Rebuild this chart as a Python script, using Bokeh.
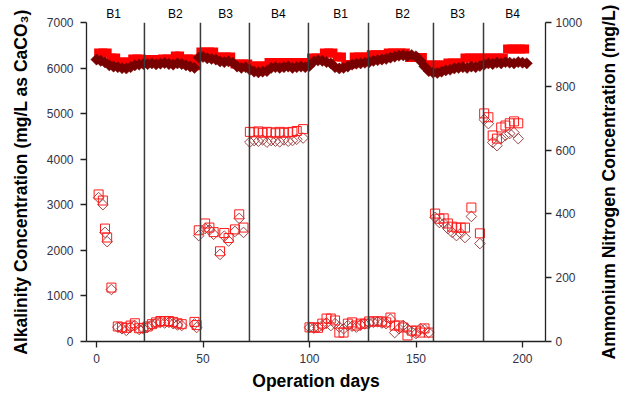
import numpy as np
from bokeh.plotting import figure
from bokeh.layouts import row
from bokeh.models import Range1d, LinearAxis, FixedTicker, Span
from bokeh.embed import file_html
from bokeh.resources import INLINE

# ---------------- data ----------------
# Influent alkalinity (mg/L as CaCO3), filled red squares, every 2 days from day 1
alk_in_days = list(range(1, 203, 2))
alk_in = [6330, 6330, 6330, 6220, 6220, 6135, 6135, 6135, 6200, 6200,
          6200, 6190, 6190, 6190, 6190, 6200, 6200, 6200, 6265, 6265,
          6200, 6200, 6200, 6050, 6350, 6350, 6350, 6350, 6245, 6245,
          6245, 6245, 6090, 6090, 6090, 6090, 6045, 6045, 6045, 6045,
          6120, 6120, 6120, 6120, 6120, 6120, 6120, 6120, 6120, 6120,
          6220, 6220, 6220, 6330, 6330, 6330, 6245, 6245, 6080, 6080,
          6245, 6245, 6245, 6245, 6290, 6290, 6290, 6290, 6330, 6330,
          6330, 6330, 6330, 6230, 6230, 6230, 6230, 6068, 6068, 6068,
          6068, 6068, 6111, 6111, 6111, 6111, 6221, 6221, 6221, 6221,
          6221, 6221, 6221, 6221, 6221, 6221, 6419, 6419, 6419, 6419,
          6419]

# Influent ammonium nitrogen (mg/L), filled dark-red diamonds, every 2 days from day 0
nh4_in_days = list(range(0, 204, 2))
nh4_in = [884, 880, 875, 866, 862, 860, 857, 856, 860, 866,
          868, 870, 870, 872, 869, 871, 873, 870, 868, 872,
          870, 866, 862, 858, 890, 892, 888, 886, 884, 878,
          876, 878, 874, 862, 858, 860, 852, 846, 844, 846,
          848, 858, 860, 858, 860, 862, 858, 860, 862, 860,
          864, 878, 881, 880, 876, 872, 860, 856, 858, 862,
          868, 871, 872, 874, 876, 880, 882, 884, 886, 890,
          893, 896, 897, 895, 898, 894, 880, 862, 848, 843,
          842, 846, 850, 852, 856, 858, 860, 858, 862, 860,
          864, 868, 872, 870, 874, 872, 876, 874, 872, 876,
          874, 872]

# Effluent samples
eff_days = [1, 3, 4, 5, 7,
            10, 12, 14, 16, 18, 20, 22,
            24, 26, 28, 30, 32, 34, 36, 38, 40,
            46, 47,
            48, 51, 53, 55, 58, 60, 62, 65, 67, 69,
            72, 74, 76, 78, 80, 82, 84, 86, 88, 90, 92, 94, 97,
            100, 102, 104, 106, 108, 110, 112, 114, 116, 118, 120, 122, 124, 126,
            128, 130, 132, 134, 136, 138, 140, 142, 144, 146, 148, 150, 152, 154, 156,
            159, 161, 163, 165, 167, 169, 171, 173, 176, 180,
            182, 184, 186, 188, 190, 192, 194, 196, 198]

# Effluent alkalinity (mg/L as CaCO3), open red squares
alk_eff = [3227, 3094, 2478, 2282, 1183,
           330, 310, 300, 350, 400, 290, 300,
           330, 380, 420, 450, 440, 450, 430, 400, 380,
           430, 360,
           2440, 2590, 2500, 2400, 1980, 2380, 2270, 2460, 2790, 2500,
           4600, 4590, 4610, 4580, 4600, 4590, 4570, 4600, 4580, 4590, 4600, 4620, 4660,
           310, 310, 300, 392, 504, 504, 462, 196, 196, 392, 420, 350, 392, 392,
           440, 441, 441, 441, 420, 525, 350, 350, 308, 133, 238, 238, 196, 287, 196,
           2807, 2695, 2702, 2590, 2520, 2499, 2499, 2499, 2940, 2373,
           5005, 4921, 4522, 4452, 4697, 4739, 4788, 4830, 4788]

# Effluent ammonium nitrogen (mg/L), open dark-red diamonds
nh4_eff = [451, 429, 342, 313, 163,
           45, 40, 35, 45, 50, 38, 40,
           45, 52, 58, 60, 58, 60, 56, 52, 50,
           55, 44,
           332, 354, 350, 336, 273, 330, 315, 345, 386, 342,
           625, 630, 628, 632, 625, 630, 628, 626, 632, 628, 630, 634, 638,
           44, 42, 44, 50, 58, 50, 56, 45, 40, 50, 48, 45, 52, 55,
           58, 60, 62, 58, 56, 70, 28, 40, 50, 40, 30, 25, 40, 38, 28,
           389, 373, 370, 354, 342, 332, 339, 326, 392, 307,
           696, 683, 624, 614, 636, 646, 652, 655, 636]

# Phase separators and labels
phase_bounds = [22.5, 48.8, 71.8, 99.5, 127.7, 158.2, 181.7]
phase_label_pos = [8, 37, 60.6, 85.4, 114.6, 143.7, 169.5, 195.3]
phase_labels = ["B1", "B2", "B3", "B4", "B1", "B2", "B3", "B4"]

x_ticks = [0, 50, 100, 150, 200]
alk_ticks = [0, 1000, 2000, 3000, 4000, 5000, 6000, 7000]
nh4_ticks = [0, 200, 400, 600, 800, 1000]

right_title = "Ammonium Nitrogen Concentration (mg/L)"

# ---------------- figure ----------------
FONT = "Liberation Sans"
TICK_COLOR = "#333344"
TITLE_SIZE = "17.5px"
TITLE_STRIP = 40

p = figure(width=626 - TITLE_STRIP, height=394, output_backend="svg", toolbar_location=None,
           x_range=Range1d(-4.7, 210.8), y_range=Range1d(0, 7000),
           min_border_left=86, min_border_right=81 - TITLE_STRIP, min_border_top=22,
           min_border_bottom=53, x_axis_location=None, y_axis_location=None)
p.extra_y_ranges = {"nh4": Range1d(0, 1000)}
p.outline_line_color = None
p.xgrid.visible = False
p.ygrid.visible = False
p.background_fill_color = "white"
p.border_fill_color = "white"


def style_axis(ax):
    ax.axis_line_color = "#222222"
    ax.axis_line_width = 1.3
    ax.major_tick_line_color = "#222222"
    ax.major_tick_line_width = 1.3
    ax.major_tick_in = 0
    ax.major_tick_out = 6
    ax.minor_tick_line_color = None
    ax.major_label_text_font = FONT
    ax.major_label_text_font_size = "12px"
    ax.major_label_text_color = TICK_COLOR
    ax.axis_label_text_font = FONT
    ax.axis_label_text_font_size = TITLE_SIZE
    ax.axis_label_text_font_style = "bold"
    ax.axis_label_text_color = "black"


xaxis = LinearAxis(ticker=FixedTicker(ticks=x_ticks), axis_label="Operation days")
style_axis(xaxis)
xaxis.major_label_standoff = 6
xaxis.axis_label_standoff = 5
p.add_layout(xaxis, "below")

yaxis = LinearAxis(ticker=FixedTicker(ticks=alk_ticks),
                   axis_label="Alkalinity Concentration (mg/L as CaCO\u2083)")
style_axis(yaxis)
yaxis.major_label_standoff = 7
yaxis.axis_label_standoff = 13
p.add_layout(yaxis, "left")

y2 = LinearAxis(y_range_name="nh4", ticker=FixedTicker(ticks=nh4_ticks))
style_axis(y2)
y2.major_label_standoff = 4
p.add_layout(y2, "right")

top = LinearAxis(ticker=FixedTicker(ticks=phase_label_pos),
                 major_label_overrides={pos: lab for pos, lab in zip(phase_label_pos, phase_labels)})
top.axis_line_color = None
top.major_tick_line_color = None
top.minor_tick_line_color = None
top.major_label_standoff = -4
top.major_label_text_font = FONT
top.major_label_text_font_size = "12px"
top.major_label_text_color = "black"
p.add_layout(top, "above")

for b in phase_bounds:
    p.add_layout(Span(location=b, dimension="height", line_color="#3a3a3a", line_width=1.5))

# influent
p.scatter(alk_in_days, alk_in, marker="square", size=9, fill_color="#ff0000",
          line_color=None)
p.scatter(nh4_in_days, nh4_in, marker="square", angle=np.pi / 4, size=8,
          fill_color="#780000", line_color="#780000", line_width=0.5, y_range_name="nh4")

# effluent
p.scatter(eff_days, nh4_eff, marker="square", angle=np.pi / 4, size=7.5,
          fill_color=None, line_color="#a04545", line_width=1, y_range_name="nh4")
p.scatter(eff_days, alk_eff, marker="square", size=9, fill_color=None,
          line_color="#ff1a1a", line_width=1)

# narrow strip holding the right-axis title (reads bottom-to-top, like the left one)
p2 = figure(width=TITLE_STRIP, height=394, output_backend="svg", toolbar_location=None,
            x_range=Range1d(0, 1), y_range=Range1d(0, 1),
            min_border_left=32, min_border_right=0, min_border_top=22,
            min_border_bottom=53, x_axis_location=None, y_axis_location=None)
p2.outline_line_color = None
p2.xgrid.visible = False
p2.ygrid.visible = False
p2.background_fill_color = "white"
p2.border_fill_color = "white"
title_axis = LinearAxis(ticker=FixedTicker(ticks=[]), axis_label=right_title)
title_axis.axis_line_color = None
title_axis.major_tick_line_color = None
title_axis.minor_tick_line_color = None
title_axis.major_tick_out = 0
title_axis.major_tick_in = 0
title_axis.major_label_standoff = 0
title_axis.axis_label_standoff = 0
title_axis.axis_label_text_font = FONT
title_axis.axis_label_text_font_size = TITLE_SIZE
title_axis.axis_label_text_font_style = "bold"
title_axis.axis_label_text_color = "black"
p2.add_layout(title_axis, "left")

layout = row(p, p2)
open("out.html", "w").write(file_html(layout, INLINE))
